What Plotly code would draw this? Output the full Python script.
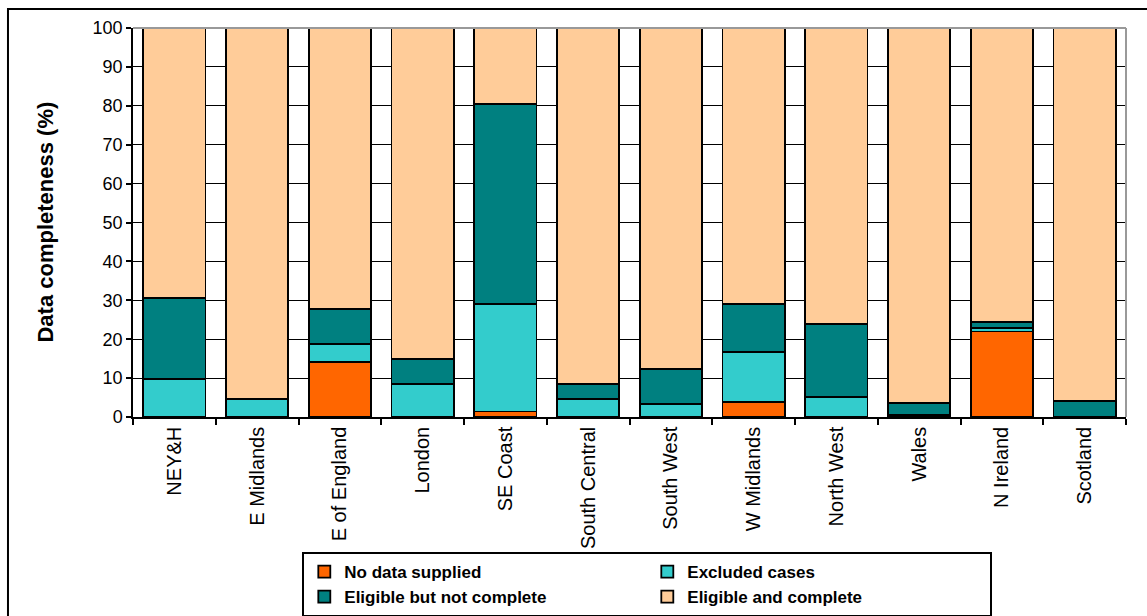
import plotly.graph_objects as go

# Regions along the x axis
regions = ["NEY&H", "E Midlands", "E of England", "London", "SE Coast",
           "South Central", "South West", "W Midlands", "North West",
           "Wales", "N Ireland", "Scotland"]

# Percentage of cases in each completeness category, per region
no_data = [0, 0, 14.2, 0, 1.4, 0, 0, 3.9, 0, 0, 22.0, 0]
excluded = [9.8, 4.7, 4.6, 8.5, 27.6, 4.6, 3.3, 12.9, 5.2, 0.5, 0.8, 0]
eligible_incomplete = [20.7, 0, 9.0, 6.4, 51.5, 3.9, 9.0, 12.2, 18.7, 3.0, 1.6, 4.1]
eligible_complete = [69.5, 95.3, 72.2, 85.1, 19.5, 91.5, 87.7, 71.0, 76.1, 96.5, 75.6, 95.9]

y_ticks = [0, 10, 20, 30, 40, 50, 60, 70, 80, 90, 100]

series = [
    ("No data supplied", no_data, "#FF6600"),
    ("Excluded cases", excluded, "#33CCCC"),
    ("Eligible but not complete", eligible_incomplete, "#008080"),
    ("Eligible and complete", eligible_complete, "#FFCC99"),
]

FONT = "Arial, Liberation Sans, sans-serif"

fig = go.Figure()
for name, vals, colour in series:
    fig.add_trace(go.Bar(
        x=regions,
        y=[v if v else None for v in vals],
        name=name,
        marker=dict(color=colour, line=dict(color="black", width=1.8)),
    ))

fig.update_layout(
    barmode="stack",
    bargap=0.25,
    width=1147, height=616,
    margin=dict(l=133, r=21, t=28, b=199, autoexpand=False),
    paper_bgcolor="white",
    plot_bgcolor="white",
    font=dict(family=FONT, color="black", size=18),
    showlegend=True,
    legend=dict(
        orientation="h",
        x=0.1705, xanchor="left",
        y=-0.347, yanchor="top",
        entrywidth=298, entrywidthmode="pixels",
        bordercolor="black", borderwidth=2,
        font=dict(family=FONT, size=17, weight="bold", color="black"),
        traceorder="normal",
        tracegroupgap=0,
    ),
    xaxis=dict(
        type="category",
        showline=True, linecolor="black", linewidth=1.5,
        ticks="outside", tickson="boundaries", ticklen=6,
        tickcolor="black", tickwidth=1.5,
        tickangle=-90,
        tickfont=dict(family=FONT, size=20),
        showgrid=False,
        fixedrange=True,
    ),
    yaxis=dict(
        range=[0, 100],
        tickvals=y_ticks,
        showline=True, linecolor="black", linewidth=1.5,
        ticks="outside", ticklen=5, tickcolor="black", tickwidth=1.5,
        tickfont=dict(family=FONT, size=18),
        showgrid=True, gridcolor="black", gridwidth=1,
        zeroline=False,
        fixedrange=True,
    ),
    annotations=[dict(
        text="<b>Data completeness (%)</b>",
        xref="paper", yref="paper",
        x=-0.0886, y=0.5,
        xanchor="center", yanchor="middle",
        textangle=-90, showarrow=False,
        font=dict(family=FONT, size=22, color="black"),
    )],
    shapes=[
        # outer chart frame
        dict(type="rect", xref="paper", yref="paper",
             x0=-0.1259, x1=1.03, y0=-0.53, y1=1.0488,
             line=dict(color="black", width=2), fillcolor="rgba(0,0,0,0)",
             layer="above"),
        # grey plot-area frame on top and right
        dict(type="line", xref="paper", yref="paper",
             x0=0, x1=1, y0=1, y1=1,
             line=dict(color="#999999", width=2), layer="above"),
        dict(type="line", xref="paper", yref="paper",
             x0=1, x1=1, y0=0, y1=1,
             line=dict(color="#999999", width=2), layer="above"),
    ],
)

fig.write_html("out.html")
